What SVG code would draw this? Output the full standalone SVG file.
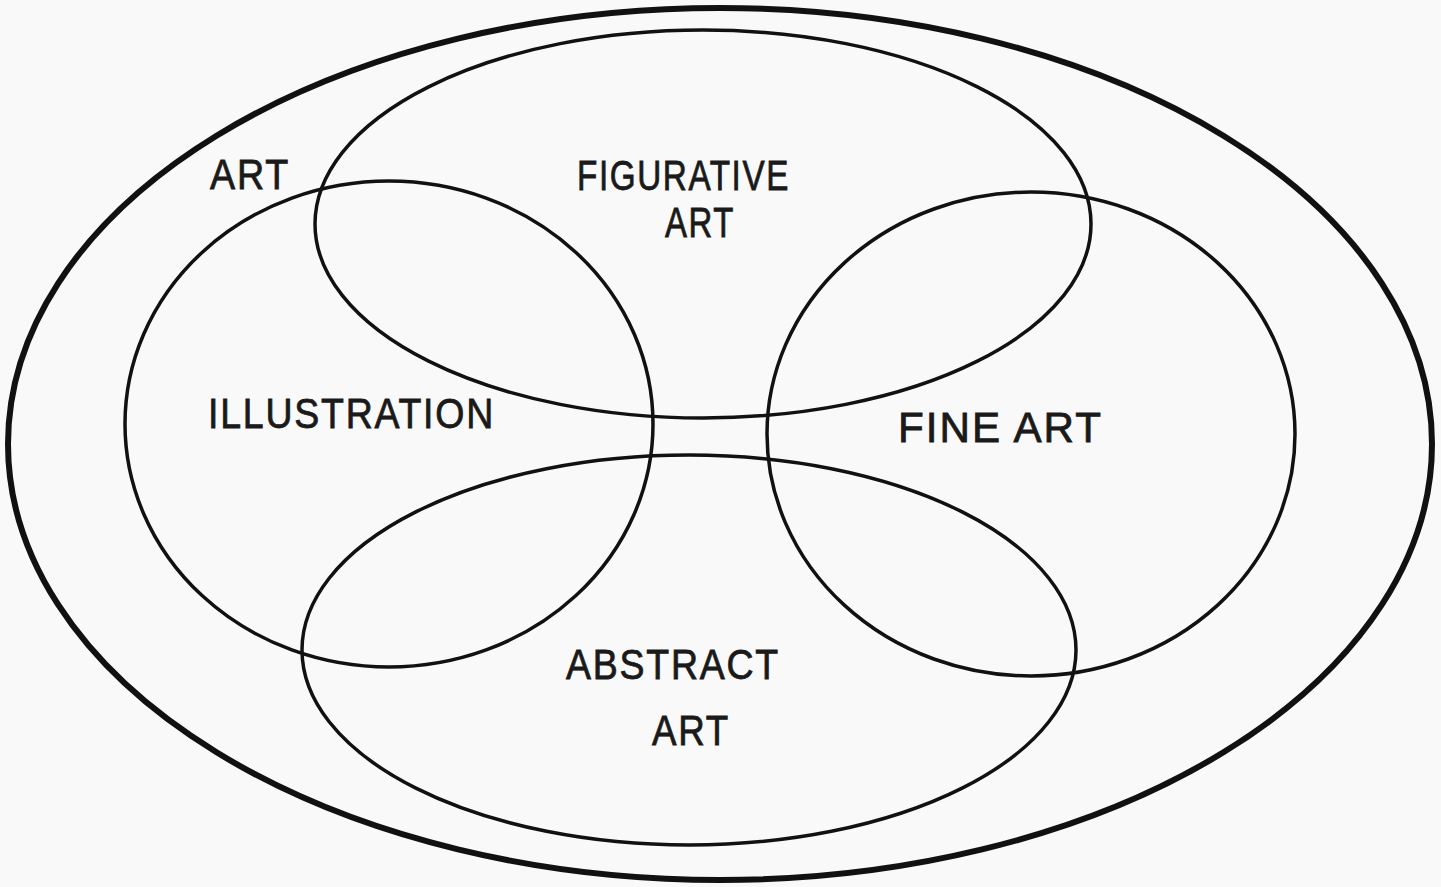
<svg xmlns="http://www.w3.org/2000/svg" width="1441" height="887" viewBox="0 0 1441 887">
<style>
.set{fill:none;stroke:#111;stroke-width:3.5}
.outer{fill:none;stroke:#111;stroke-width:6}
.lbl{font-family:"Liberation Sans",Arial,sans-serif;font-size:42px;fill:#1a1a1a;stroke:#1a1a1a;stroke-width:0.8;letter-spacing:2px}
</style>
<rect width="1441" height="887" fill="#f9f9f9"/>
<g id="art">
<ellipse class="outer" cx="720" cy="444" rx="712" ry="436"/>
<text class="lbl" x="210" y="189" textLength="80" lengthAdjust="spacingAndGlyphs">ART</text>
</g>
<g id="figurative">
<ellipse class="set" cx="703" cy="224" rx="388" ry="194"/>
<text class="lbl" x="577" y="190" textLength="213" lengthAdjust="spacingAndGlyphs">FIGURATIVE</text>
<text class="lbl" x="665" y="237" textLength="70" lengthAdjust="spacingAndGlyphs">ART</text>
</g>
<g id="illustration">
<ellipse class="set" cx="389" cy="424" rx="264" ry="243"/>
<text class="lbl" x="208" y="428" textLength="287" lengthAdjust="spacingAndGlyphs">ILLUSTRATION</text>
</g>
<g id="fineart">
<ellipse class="set" cx="1031" cy="434" rx="264" ry="242"/>
<text class="lbl" x="898" y="442" textLength="205" lengthAdjust="spacingAndGlyphs">FINE ART</text>
</g>
<g id="abstract">
<ellipse class="set" cx="689" cy="650" rx="387" ry="195"/>
<text class="lbl" x="566" y="679" textLength="214" lengthAdjust="spacingAndGlyphs">ABSTRACT</text>
<text class="lbl" x="652" y="745" textLength="78" lengthAdjust="spacingAndGlyphs">ART</text>
</g>
<g id="connectors"/>
</svg>
